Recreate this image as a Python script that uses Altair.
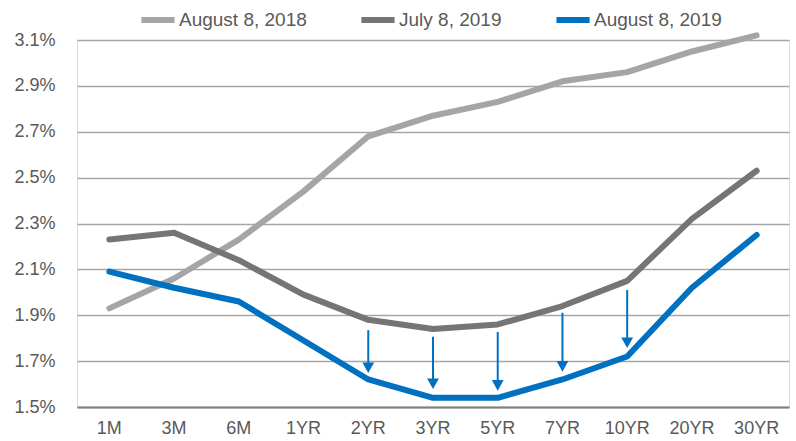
import altair as alt
import pandas as pd

tenors = ["1M", "3M", "6M", "1YR", "2YR", "3YR", "5YR", "7YR", "10YR", "20YR", "30YR"]
aug_2018 = [1.93, 2.06, 2.23, 2.44, 2.68, 2.77, 2.83, 2.92, 2.96, 3.05, 3.12]
jul_2019 = [2.23, 2.26, 2.14, 1.99, 1.88, 1.84, 1.86, 1.94, 2.05, 2.32, 2.53]
aug_2019 = [2.09, 2.02, 1.96, 1.79, 1.62, 1.54, 1.54, 1.62, 1.72, 2.02, 2.25]
series_names = ["August 8, 2018", "July 8, 2019", "August 8, 2019"]
series_colors = ["#A5A5A5", "#757575", "#0070C0"]

arrow_tenors = ["2YR", "3YR", "5YR", "7YR", "10YR"]
arrow_top = [1.835, 1.806, 1.827, 1.911, 2.01]
arrow_tip = [1.648, 1.578, 1.571, 1.654, 1.757]
arrow_shaft_end = [1.68, 1.61, 1.603, 1.686, 1.789]

y_ticks = [1.5, 1.7, 1.9, 2.1, 2.3, 2.5, 2.7, 2.9, 3.1]

rows = []
for name, vals in zip(series_names, [aug_2018, jul_2019, aug_2019]):
    for t, v in zip(tenors, vals):
        rows.append({"tenor": t, "rate": v, "series": name})
df = pd.DataFrame(rows)
arrows = pd.DataFrame({"tenor": arrow_tenors, "top": arrow_top,
                       "tip": arrow_tip, "shaft": arrow_shaft_end})

FONT = "Liberation Sans"
TXT = "#595959"

x_scale = alt.Scale(domain=tenors, paddingInner=0, paddingOuter=0)
x_enc = alt.X("tenor:N", sort=tenors, scale=x_scale,
              axis=alt.Axis(title=None, labelAngle=0, labelFontSize=18, labelColor=TXT, labelFont=FONT,
                            labelPadding=12, ticks=False, domainColor="#7F7F7F", domainWidth=2,
                            grid=False))
y_scale = alt.Scale(domain=[1.5, 3.1], nice=False, zero=False)

lines = alt.Chart(df).mark_line(strokeWidth=6, strokeCap="round", strokeJoin="round").encode(
    x=x_enc,
    y=alt.Y("rate:Q", scale=y_scale,
            axis=alt.Axis(title=None, values=y_ticks, labelExpr="format(datum.value, '.1f') + '%'",
                          labelFontSize=18, labelColor=TXT, labelFont=FONT, labelPadding=22,
                          ticks=False, domain=False, grid=True, gridColor="#A6A6A6", gridWidth=1.3)),
    color=alt.Color("series:N", sort=series_names,
                    scale=alt.Scale(domain=series_names, range=series_colors),
                    legend=alt.Legend(title=None, orient="none", direction="horizontal",
                                      legendX=61, legendY=-40, symbolType="stroke",
                                      symbolSize=1100, symbolStrokeWidth=6, labelFontSize=19,
                                      labelFont=FONT, labelColor=TXT, labelOffset=1,
                                      columnPadding=42)),
    order=alt.Order("series_order:Q"),
).transform_calculate(series_order="indexof(['August 8, 2018','July 8, 2019','August 8, 2019'], datum.series)")

shafts = alt.Chart(arrows).mark_rule(color="#0070C0", strokeWidth=2).encode(
    x=alt.X("tenor:N", sort=tenors, scale=x_scale), y=alt.Y("top:Q", scale=y_scale), y2="shaft:Q")

heads = alt.Chart(arrows).mark_point(
    shape="M-1,-1.8 L1,-1.8 L0,0 Z", filled=True, color="#0070C0", opacity=1, size=140, strokeWidth=0
).encode(x=alt.X("tenor:N", sort=tenors, scale=x_scale), y=alt.Y("tip:Q", scale=y_scale))

chart = alt.layer(lines, shafts, heads).properties(
    width=712, height=367,
    autosize=alt.AutoSizeParams(type="none"),
    padding={"left": 77, "top": 40, "right": 7, "bottom": 34},
).configure_view(stroke=None).configure(font=FONT)

chart.save("out.html", embed_options={"renderer": "svg", "actions": False})
